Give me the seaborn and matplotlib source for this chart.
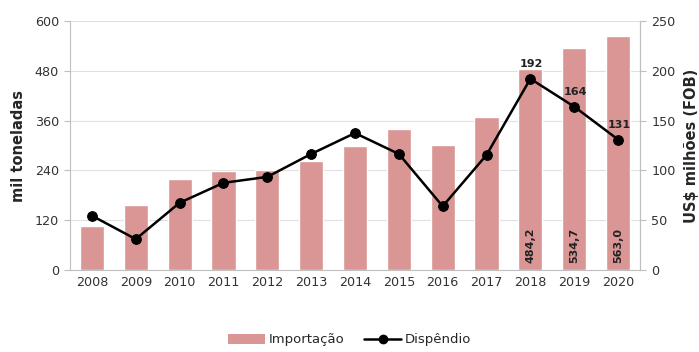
import matplotlib
matplotlib.use("Agg")
import matplotlib.pyplot as plt
import seaborn as sns
import pandas as pd
from matplotlib.patches import Patch
from matplotlib.lines import Line2D

years = ["2008", "2009", "2010", "2011", "2012", "2013", "2014", "2015", "2016", "2017", "2018", "2019", "2020"]
importacao = [106, 157, 219, 238, 241, 262, 299, 340, 301, 368, 484.2, 534.7, 563.0]
dispendio = [54.5, 31, 67.5, 87.5, 93.5, 116.5, 137.5, 116.5, 64, 115.5, 192, 164, 131]
bar_labels = {"2018": "484,2", "2019": "534,7", "2020": "563,0"}
line_labels = {"2018": "192", "2019": "164", "2020": "131"}

df = pd.DataFrame({"ano": years, "imp": importacao, "disp": dispendio})

sns.set_style("white")
plt.rcParams["font.family"] = ["DejaVu Sans"]

fig = plt.figure(figsize=(6.99, 3.52), dpi=100)
ax = fig.add_axes([70/699, 1-270/352, 570/699, 249/352])
bar_color = "#D99694"
sns.barplot(data=df, x="ano", y="imp", color=bar_color, width=0.55, ax=ax, saturation=1, zorder=2)
ax.set_ylim(0, 600)
ax.set_yticks([0, 120, 240, 360, 480, 600])
ax.set_xlim(-0.5, 12.5)
ax.grid(axis="y", color="#e0e0e0", linewidth=0.8, zorder=0)
ax.set_axisbelow(True)
ax.set_xlabel("")
ax.set_ylabel("mil toneladas", fontsize=10.5, fontweight="bold", labelpad=6)
ax.tick_params(axis="both", labelsize=9.2, colors="#333333", length=0, pad=4)
ax.set_xticks(range(len(years)))
ax.set_xticklabels(years)
ax.spines["top"].set_visible(False)
for s in ["left", "bottom", "right"]:
    ax.spines[s].set_color("#bfbfbf")
    ax.spines[s].set_linewidth(0.8)
ax.set_xticks([i - 0.5 for i in range(len(years) + 1)], minor=True)
ax.tick_params(axis="x", which="minor", length=4, color="#bfbfbf", direction="out")
ax.tick_params(axis="y", which="major", length=4, color="#bfbfbf", direction="out", left=True)

for i, y in enumerate(years):
    if y in bar_labels:
        ax.text(i, 18, bar_labels[y], rotation=90, ha="center", va="bottom",
                fontsize=8, fontweight="bold", color="#222222", zorder=5)

ax2 = ax.twinx()
sns.lineplot(data=df, x="ano", y="disp", color="black", marker="o", markersize=7,
             markeredgecolor="black", linewidth=1.8, ax=ax2, sort=False, zorder=4)
ax2.set_ylim(0, 250)
ax2.set_yticks([0, 50, 100, 150, 200, 250])
ax2.set_xlim(-0.5, 12.5)
ax2.set_ylabel("US$ milhões (FOB)", fontsize=10.5, fontweight="bold", labelpad=6)
ax2.tick_params(axis="y", labelsize=9.2, colors="#333333", length=4, color="#bfbfbf", pad=4)
for s in ["top", "left", "bottom"]:
    ax2.spines[s].set_visible(False)
ax2.spines["right"].set_color("#bfbfbf")
ax2.spines["right"].set_linewidth(0.8)

for i, y in enumerate(years):
    if y in line_labels:
        ax2.annotate(line_labels[y], (i, dispendio[i]), xytext=(1, 7), textcoords="offset points",
                     ha="center", va="bottom", fontsize=8, fontweight="bold", color="#222222")

handles = [Patch(facecolor=bar_color, edgecolor="none"),
           Line2D([0], [0], color="black", marker="o", markersize=6, linewidth=1.8)]
fig.legend(handles, ["Importação", "Dispêndio"], loc="center", bbox_to_anchor=(0.5, 1-340/352),
           ncol=2, frameon=False, fontsize=9.5, handlelength=2.8, columnspacing=1.5, handletextpad=0.3)

fig.savefig("out.png", dpi=100)
